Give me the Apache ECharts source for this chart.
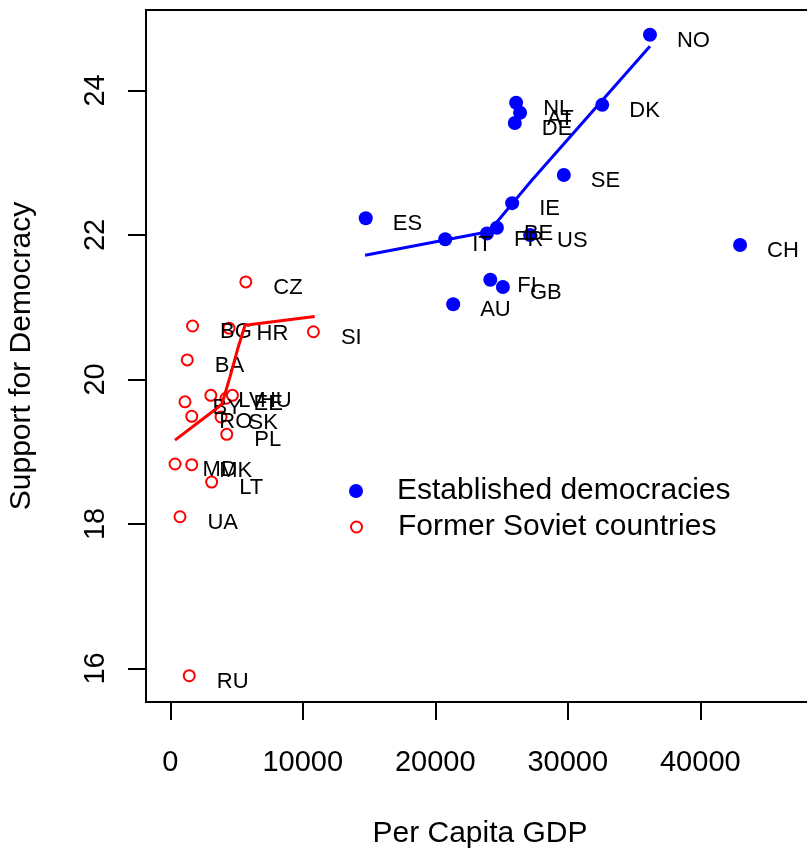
<!DOCTYPE html>
<html>
<head>
<meta charset="utf-8">
<script src="https://cdn.jsdelivr.net/npm/echarts@6/dist/echarts.min.js"></script>
<style>
  html, body { margin: 0; padding: 0; background: #fff; overflow: hidden; }
  #chart { width: 807px; height: 849px; }
</style>
</head>
<body>
<div id="chart"></div>
<script>
// Established democracies: country code, per capita GDP, support for democracy
const estCountries = ['NO', 'DK', 'NL', 'AT', 'DE', 'SE', 'IE', 'BE', 'FR', 'US', 'IT', 'ES', 'FI', 'GB', 'AU', 'CH'];
const estGdp = [36200, 32600, 26100, 26400, 26000, 29700, 25800, 24650, 23900, 27150, 20750, 14750, 24150, 25100, 21350, 43000];
const estSupport = [24.77, 23.80, 23.83, 23.69, 23.55, 22.83, 22.44, 22.10, 22.02, 22.00, 21.94, 22.23, 21.38, 21.28, 21.04, 21.86];

// Former Soviet countries
const fsCountries = ['CZ', 'BG', 'HR', 'SI', 'BA', 'BY', 'LV', 'EE', 'HU', 'RO', 'SK', 'PL', 'MD', 'MK', 'LT', 'UA', 'RU'];
const fsGdp = [5700, 1680, 4430, 10800, 1280, 1110, 3060, 4200, 4690, 1620, 3830, 4260, 360, 1620, 3120, 730, 1430];
const fsSupport = [21.35, 20.74, 20.71, 20.66, 20.27, 19.69, 19.78, 19.74, 19.78, 19.49, 19.48, 19.24, 18.83, 18.82, 18.58, 18.10, 15.90];

// Smoothed trend lines for each group
const estTrendGdp = [14700, 20730, 23900, 24650, 25790, 27300, 36200];
const estTrendSupport = [21.72, 21.93, 22.04, 22.18, 22.43, 22.76, 24.61];
const fsTrendGdp = [355, 3370, 3900, 4510, 5130, 5640, 10900];
const fsTrendSupport = [19.16, 19.58, 19.66, 20.04, 20.45, 20.75, 20.87];

// Axis ticks
const xTicks = [0, 10000, 20000, 30000, 40000];
const yTicks = [16, 18, 20, 22, 24];

const FONT = '"Liberation Sans", Arial, Helvetica, sans-serif';
const X_MIN = -1834, X_MAX = 48580;
const Y_MIN = 15.536, Y_MAX = 25.113;

function points(xs, ys, names) {
  return xs.map((x, i) => ({ value: [x, ys[i]], name: names[i] }));
}
function pairs(xs, ys) {
  return xs.map((x, i) => [x, ys[i]]);
}

const frameLine = { show: true, onZero: false, lineStyle: { color: '#000', width: 2 } };
const tickStyle = { show: true, inside: false, length: 18, lineStyle: { color: '#000', width: 2 } };

const chart = echarts.init(document.getElementById('chart'), null, { renderer: 'canvas' });

chart.setOption({
  animation: false,
  backgroundColor: '#ffffff',
  textStyle: { fontFamily: FONT },
  // the frame continues a little past the right edge of the canvas
  grid: { left: 146, top: 10, bottom: 147, right: -7, show: false, outerBoundsMode: 'none', containLabel: false },
  xAxis: [
    {
      type: 'value',
      position: 'bottom',
      min: X_MIN, max: X_MAX,
      name: 'Per Capita GDP',
      nameLocation: 'middle',
      nameGap: 117,
      nameTextStyle: { fontSize: 30, color: '#000', fontFamily: FONT },
      axisLine: frameLine,
      splitLine: { show: false },
      axisTick: Object.assign({ customValues: xTicks }, tickStyle),
      axisLabel: {
        customValues: xTicks, margin: 46, fontSize: 29, color: '#000', fontFamily: FONT,
        formatter: v => String(v)
      }
    },
    {
      // top edge of the plot frame
      type: 'value',
      position: 'top',
      min: X_MIN, max: X_MAX,
      axisLine: frameLine,
      axisTick: { show: false },
      axisLabel: { show: false },
      splitLine: { show: false }
    }
  ],
  yAxis: [
    {
      type: 'value',
      position: 'left',
      min: Y_MIN, max: Y_MAX,
      name: 'Support for Democracy',
      nameLocation: 'middle',
      nameGap: 109,
      nameTextStyle: { fontSize: 30, color: '#000', fontFamily: FONT },
      axisLine: frameLine,
      splitLine: { show: false },
      axisTick: Object.assign({ customValues: yTicks }, tickStyle),
      axisLabel: {
        customValues: yTicks, rotate: 90, margin: 36, fontSize: 29, color: '#000', fontFamily: FONT,
        formatter: v => String(v)
      }
    },
    {
      // tick marks on the left edge
      type: 'value',
      position: 'left',
      offset: 0,
      min: Y_MIN, max: Y_MAX,
      axisLine: { show: false, onZero: false },
      splitLine: { show: false },
      axisTick: Object.assign({ customValues: yTicks }, tickStyle),
      axisLabel: { show: false, customValues: yTicks }
    }
  ],
  legend: [
    {
      data: ['Established democracies'],
      orient: 'vertical', left: 344, top: 471,
      itemWidth: 14, itemHeight: 14,
      textStyle: { fontSize: 30, color: '#000', fontFamily: FONT, padding: [0, 0, 0, 29] }
    },
    {
      data: ['Former Soviet countries'],
      orient: 'vertical', left: 345, top: 507,
      itemWidth: 11, itemHeight: 11,
      textStyle: { fontSize: 30, color: '#000', fontFamily: FONT, padding: [0, 0, 0, 31] }
    }
  ],
  series: [
    {
      name: 'Established democracies',
      type: 'scatter',
      symbol: 'circle',
      symbolSize: 14,
      itemStyle: { color: '#0000ff', opacity: 1 },
      label: {
        show: true, position: 'right', distance: 20, offset: [0, 6],
        formatter: p => p.name, fontSize: 22, color: '#000', fontFamily: FONT
      },
      data: points(estGdp, estSupport, estCountries),
      z: 3
    },
    {
      name: 'Former Soviet countries',
      type: 'scatter',
      symbol: 'emptyCircle',
      symbolSize: 11,
      itemStyle: { color: '#ff0000', borderColor: '#ff0000', borderWidth: 2, opacity: 1 },
      label: {
        show: true, position: 'right', distance: 21, offset: [0, 6],
        formatter: p => p.name, fontSize: 22, color: '#000', fontFamily: FONT
      },
      data: points(fsGdp, fsSupport, fsCountries),
      z: 3
    },
    {
      name: 'estTrend',
      type: 'line',
      data: pairs(estTrendGdp, estTrendSupport),
      showSymbol: false,
      lineStyle: { color: '#0000ff', width: 3 },
      z: 4
    },
    {
      name: 'fsTrend',
      type: 'line',
      data: pairs(fsTrendGdp, fsTrendSupport),
      showSymbol: false,
      lineStyle: { color: '#ff0000', width: 3 },
      z: 4
    }
  ]
});
</script>
</body>
</html>
